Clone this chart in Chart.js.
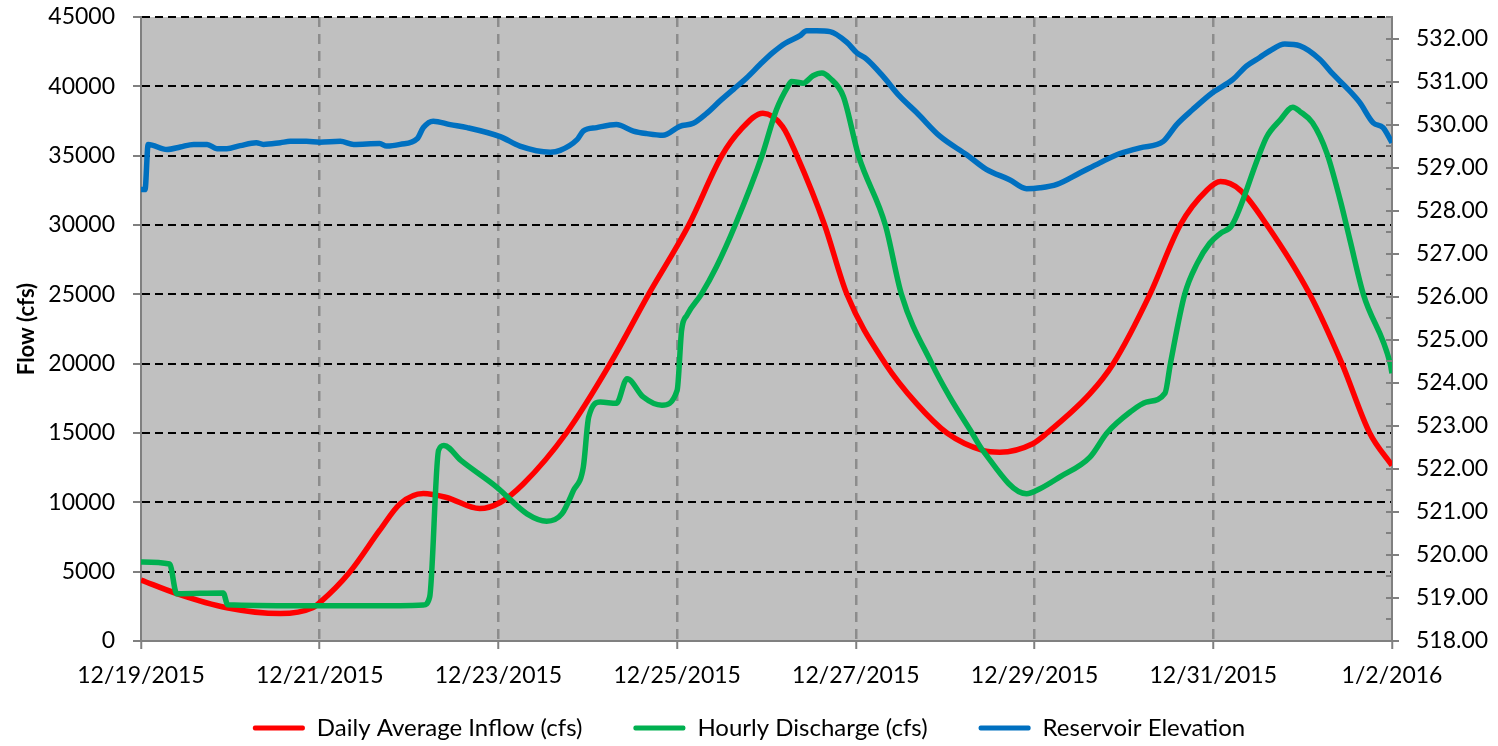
<!DOCTYPE html>
<html>
<head>
  <script src="https://cdn.jsdelivr.net/npm/chart.js@4.4.0/dist/chart.umd.min.js"></script>
  <style>
    html, body { margin: 0; padding: 0; background: #fff; }
    #wrap { width: 1498px; height: 746px; position: relative; }
  </style>
</head>
<body>
  <div id="wrap"><canvas id="flowChart"></canvas></div>

  <script>
    // x values are days after 12/19/2015 00:00
    const startDate = new Date(2015, 11, 19);

    const inflowDays = [0, 0.40, 0.96, 1.56, 1.92, 2.00, 2.34, 2.67, 2.90, 3.16, 3.42, 3.79, 4.02, 4.28, 4.76,
      5.25, 5.68, 6.13, 6.50, 6.71, 6.96, 7.18, 7.34, 7.65, 7.90, 8.33, 8.68, 9.02, 9.42, 9.61, 9.98, 10.14,
      10.62, 10.88, 11.29, 11.63, 11.93, 12.08, 12.30, 12.60, 13.08, 13.44, 13.75, 14.00];
    const inflowCfs = [4400, 3420, 2400, 1980, 2400, 2770, 5000, 7970, 9900, 10640, 10350, 9550, 9990, 11340, 15000,
      20000, 25000, 30000, 35000, 36860, 38060, 37100, 35000, 30000, 25000, 20000, 17120, 15000, 13750, 13620, 14230, 15000,
      17840, 20000, 25000, 30000, 32520, 33130, 32520, 30000, 25000, 20000, 15000, 12660];

    const dischargeDays = [0, 0.32, 0.40, 0.92, 0.97, 1.78, 2.90, 3.16, 3.23, 3.33, 3.39, 3.58, 3.98, 4.32, 4.54, 4.71,
      4.84, 4.95, 5.01, 5.14, 5.32, 5.44, 5.62, 5.83, 6.00, 6.05, 6.11, 6.27, 6.44, 6.65, 6.95, 7.11, 7.24, 7.28, 7.41,
      7.52, 7.62, 7.71, 7.86, 8.03, 8.33, 8.51, 8.85, 9.05, 9.30, 9.42, 9.91, 10.06, 10.28, 10.62, 10.81, 11.07, 11.25,
      11.46, 11.52, 11.68, 11.82, 11.96, 12.08, 12.21, 12.51, 12.60, 12.75, 12.89, 12.97, 13.11, 13.27, 13.42, 13.53,
      13.68, 13.98, 14.00];
    const dischargeCfs = [5700, 5550, 3400, 3470, 2620, 2550, 2550, 2590, 3150, 13750, 14100, 13020, 11100, 9170, 8640, 9170,
      10860, 12540, 16150, 17230, 17140, 18920, 17600, 17000, 18080, 22410, 23500, 25000, 26990, 30000, 35000, 38300, 40000, 40350, 40230,
      40760, 40960, 40590, 39270, 35000, 30000, 25000, 20000, 17600, 15000, 13750, 10620, 10980, 11820, 13260, 15000, 16510, 17230,
      17880, 20000, 25000, 27230, 28680, 29400, 30000, 35000, 36380, 37580, 38500, 38180, 37370, 35200, 31800, 28900,
      25000, 20000, 19300];

    const elevDays = [0, 0.045, 0.08, 0.29, 0.44, 0.59, 0.74, 0.85, 0.96, 1.11, 1.29, 1.37, 1.56, 1.67, 1.85, 2.00, 2.23,
      2.38, 2.67, 2.75, 2.90, 3.09, 3.16, 3.27, 3.46, 3.65, 4.02, 4.24, 4.58, 4.69, 4.88, 4.95, 5.10, 5.32, 5.51, 5.66,
      5.84, 6.03, 6.18, 6.33, 6.48, 6.63, 6.78, 6.93, 7.07, 7.21, 7.37, 7.45, 7.56, 7.71, 7.90, 8.01, 8.12, 8.30, 8.49,
      8.68, 8.94, 9.24, 9.46, 9.72, 9.91, 10.06, 10.25, 10.51, 10.73, 10.92, 11.18, 11.44, 11.59, 11.77, 11.99, 12.22,
      12.37, 12.52, 12.63, 12.80, 12.97, 13.19, 13.34, 13.49, 13.64, 13.79, 13.90, 14.00];
    const elevFt = [528.49, 528.49, 529.54, 529.42, 529.48, 529.54, 529.54, 529.44, 529.44, 529.51, 529.58, 529.54, 529.58,
      529.61, 529.61, 529.59, 529.61, 529.54, 529.56, 529.50, 529.54, 529.67, 529.93, 530.08, 530.00, 529.93, 529.72, 529.50,
      529.36, 529.40, 529.65, 529.85, 529.93, 530.00, 529.85, 529.79, 529.75, 529.96, 530.03, 530.26, 530.55, 530.82, 531.09,
      531.40, 531.67, 531.89, 532.06, 532.18, 532.18, 532.16, 531.91, 531.67, 531.52, 531.13, 530.66, 530.28, 529.73, 529.30,
      528.96, 528.72, 528.51, 528.53, 528.61, 528.88, 529.11, 529.30, 529.46, 529.61, 530.00, 530.35, 530.74, 531.05, 531.36,
      531.56, 531.71, 531.87, 531.83, 531.52, 531.17, 530.86, 530.51, 530.04, 529.93, 529.58];

    function toPoints(xs, ys) {
      return xs.map((x, i) => ({ x: x, y: ys[i] }));
    }

    function dateLabel(v) {
      const d = new Date(startDate.getTime() + v * 86400000);
      return (d.getMonth() + 1) + '/' + d.getDate() + '/' + d.getFullYear();
    }

    // grey plot area
    const plotBackground = {
      id: 'plotBackground',
      beforeDraw(chart) {
        const a = chart.chartArea;
        const ctx = chart.ctx;
        ctx.save();
        ctx.fillStyle = '#c0c0c0';
        ctx.fillRect(a.left, a.top, a.right - a.left, a.bottom - a.top);
        ctx.restore();
      }
    };

    // right axis: major ticks cross the axis, minor ticks inside
    const elevTicks = {
      id: 'elevTicks',
      afterDraw(chart) {
        const s = chart.scales.y2;
        const ctx = chart.ctx;
        const x = chart.chartArea.right;
        ctx.save();
        ctx.strokeStyle = '#808080';
        ctx.lineWidth = 2;
        for (let v = 518; v <= 532.5; v += 0.5) {
          const y = Math.round(s.getPixelForValue(v));
          const major = v % 1 === 0;
          ctx.beginPath();
          ctx.moveTo(x - 6, y);
          ctx.lineTo(major ? x + 7 : x, y);
          ctx.stroke();
        }
        ctx.restore();
      }
    };

    Chart.defaults.font.family = 'Lato';
    Chart.defaults.color = '#000';

    new Chart(document.getElementById('flowChart'), {
      type: 'line',
      data: {
        datasets: [
          {
            label: 'Daily Average Inflow (cfs)',
            data: toPoints(inflowDays, inflowCfs),
            borderColor: '#ff0000',
            backgroundColor: '#ff0000',
            borderWidth: 5.5,
            pointRadius: 0,
            cubicInterpolationMode: 'monotone',
            yAxisID: 'y',
            order: 3
          },
          {
            label: 'Hourly Discharge (cfs)',
            data: toPoints(dischargeDays, dischargeCfs),
            borderColor: '#00b050',
            backgroundColor: '#00b050',
            borderWidth: 5.5,
            pointRadius: 0,
            cubicInterpolationMode: 'monotone',
            yAxisID: 'y',
            order: 2
          },
          {
            label: 'Reservoir Elevation',
            data: toPoints(elevDays, elevFt),
            borderColor: '#0070c0',
            backgroundColor: '#0070c0',
            borderWidth: 5.5,
            pointRadius: 0,
            cubicInterpolationMode: 'monotone',
            yAxisID: 'y2',
            order: 1
          }
        ]
      },
      options: {
        responsive: true,
        maintainAspectRatio: false,
        animation: false,
        layout: { padding: { top: 17, left: 0, right: 0, bottom: -4 } },
        plugins: {
          tooltip: { enabled: false },
          legend: {
            position: 'bottom',
            labels: {
              font: { size: 24 },
              boxWidth: 52,
              boxHeight: 5,
              padding: 51,
              sort: (a, b) => a.datasetIndex - b.datasetIndex,
              generateLabels(chart) {
                const items = Chart.defaults.plugins.legend.labels.generateLabels(chart);
                items.forEach(it => { it.lineWidth = 0; it.borderRadius = 2; });
                return items;
              }
            }
          }
        },
        scales: {
          x: {
            type: 'linear',
            min: 0,
            max: 14,
            ticks: {
              stepSize: 2,
              font: { size: 23 },
              padding: 13,
              maxRotation: 0,
              callback: v => dateLabel(v)
            },
            grid: {
              color: c => (c.tick && (c.tick.value === 0 || c.tick.value === 14)) ? 'rgba(0,0,0,0)' : '#8c8c8c',
              lineWidth: 2.5,
              tickColor: '#808080',
              tickWidth: 2,
              tickBorderDash: [],
              tickLength: 8
            },
            border: { display: true, color: '#808080', width: 2, dash: [10, 7] },
            afterFit: s => {
              s.height = 24;
              // the date labels hang below this short box, so do not clip them to it
              s._computeLabelArea = () => undefined;
            }
          },
          y: {
            position: 'left',
            min: 0,
            max: 45000,
            ticks: { stepSize: 5000, font: { size: 23 }, padding: 18, callback: v => String(v) },
            title: {
              display: true,
              text: 'Flow (cfs)',
              font: { size: 22, weight: 'bold' },
              padding: { top: 14 }
            },
            grid: {
              color: c => (c.tick && c.tick.value === 0) ? 'rgba(0,0,0,0)' : '#000',
              lineWidth: 2,
              tickColor: '#808080',
              tickWidth: 2,
              tickBorderDash: [],
              tickLength: 8
            },
            border: { display: true, color: '#808080', width: 2, dash: [8, 5] },
            afterFit: s => { s.width = 141; s.paddingTop = 8; s.paddingBottom = 8; }
          },
          y2: {
            position: 'right',
            min: 518,
            max: 532.5,
            ticks: {
              stepSize: 1,
              includeBounds: false,
              font: { size: 23 },
              padding: 24,
              callback: v => Number(v).toFixed(2)
            },
            grid: { drawOnChartArea: false, drawTicks: false },
            border: { display: true, color: '#808080', width: 2 },
            afterFit: s => { s.width = 106; s.paddingTop = 8; s.paddingBottom = 8; }
          }
        }
      },
      plugins: [plotBackground, elevTicks]
    });
  </script>
</body>
</html>
